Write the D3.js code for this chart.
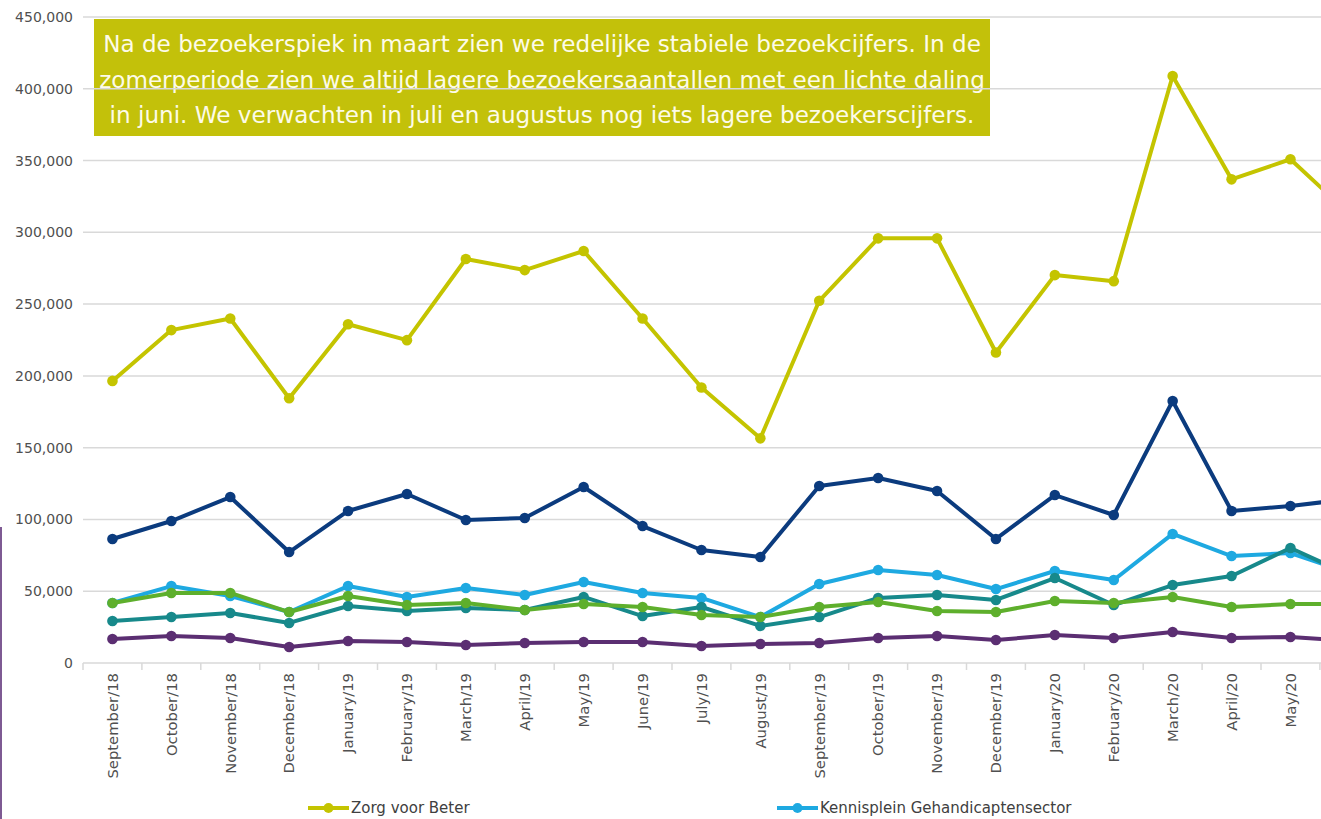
<!DOCTYPE html>
<html lang="nl">
<head>
<meta charset="UTF-8">
<title>Bezoekcijfers</title>
<script src="https://d3js.org/d3.v7.min.js"></script>
<style>
    body {
        margin: 0;
        background: #ffffff;
        overflow: hidden;
        font-family: 'DejaVu Sans', sans-serif;
    }
    .grid line { stroke: #d9d9d9; stroke-width: 1.5px; }
    .tick-label { fill: #505050; font-size: 14px; }
    .legend text { fill: #404040; font-size: 15px; }
</style>
</head>
<body>
<div id="chart"></div>
<script>
// months on the x axis (last one runs off the right edge)
const months = ["September/18", "October/18", "November/18", "December/18", "January/19", "February/19",
    "March/19", "April/19", "May/19", "June/19", "July/19", "August/19", "September/19", "October/19",
    "November/19", "December/19", "January/20", "February/20", "March/20", "April/20", "May/20", "June/20"];

const yTicks = [0, 50000, 100000, 150000, 200000, 250000, 300000, 350000, 400000, 450000];

// series values
const zorgVoorBeter = [196500, 231900, 240000, 184400, 236000, 224900, 281400, 273700, 287000, 240000, 191900,
    156500, 252300, 295800, 295800, 216300, 270200, 266000, 408900, 336900, 350900, 312800];
const navySeries = [86400, 98900, 115600, 77300, 105900, 117700, 99600, 101000, 122600, 95400, 78700,
    73800, 123300, 128900, 119800, 86400, 117000, 103100, 182500, 105900, 109400, 114200];
const kennisplein = [41800, 53600, 46700, 35500, 53600, 46000, 52200, 47400, 56400, 48800, 45300,
    32000, 55000, 64800, 61300, 51500, 64100, 57800, 89900, 74500, 76600, 62700];
const tealSeries = [29300, 32000, 34800, 27900, 39700, 36200, 38300, 36900, 46000, 32700, 39000,
    25800, 32000, 45300, 47400, 43900, 59200, 40400, 54300, 60600, 80100, 61300];
const greenSeries = [41800, 48800, 48800, 35500, 46700, 40400, 41800, 36900, 41100, 39000, 33400,
    32000, 39000, 42500, 36200, 35500, 43200, 41800, 46000, 39000, 41100, 41100];
const purpleSeries = [16700, 18800, 17400, 11100, 15300, 14600, 12500, 13900, 14600, 14600, 11800,
    13200, 13900, 17400, 18800, 16000, 19500, 17400, 21600, 17400, 18100, 15300];

const legendNames = ["Zorg voor Beter", "Kennisplein Gehandicaptensector"];

const noteLines = [
    "Na de bezoekerspiek in maart zien we redelijke stabiele bezoekcijfers. In de",
    "zomerperiode zien we altijd lagere bezoekersaantallen met een lichte daling",
    "in juni. We verwachten in juli en augustus nog iets lagere bezoekerscijfers."
];

const COLORS = {
    zorg: "#c4c400",
    navy: "#0b3b7e",
    lightBlue: "#1ea9e1",
    teal: "#17898b",
    green: "#5eaf2c",
    purple: "#5b2e72",
    box: "#c3c10a"
};

const W = 1321, H = 819;
const margin = { left: 83, top: 17, bottom: 156 };
const bandWidth = 58.9;

const svg = d3.select("#chart").append("svg")
    .attr("width", W)
    .attr("height", H);

const x = d3.scaleBand()
    .domain(months)
    .range([margin.left, margin.left + bandWidth * months.length])
    .padding(0);

const y = d3.scaleLinear()
    .domain([0, 450000])
    .range([H - margin.bottom, margin.top]);

// purple page edge on the left
svg.append("rect")
    .attr("x", 0).attr("y", 527)
    .attr("width", 2).attr("height", H - 527)
    .attr("fill", "#7e5a93");

// note box (sits under the grid lines)
const box = svg.append("g");
box.append("rect")
    .attr("x", 94).attr("y", 19)
    .attr("width", 896).attr("height", 117)
    .attr("fill", COLORS.box);
const noteText = box.selectAll("text")
    .data(noteLines)
    .enter().append("text")
    .attr("x", 542)
    .attr("y", (d, i) => 52 + i * 35.5)
    .attr("text-anchor", "middle")
    .attr("fill", "#fdfbe8")
    .style("font-size", "21px")
    .text(d => d);

// fit the first line to the width it has in the original
const firstWidth = noteText.node().getComputedTextLength();
noteText.style("font-size", (21 * 878 / firstWidth).toFixed(2) + "px");

// grid lines
svg.append("g")
    .attr("class", "grid")
    .selectAll("line")
    .data(yTicks.slice(1))
    .enter().append("line")
    .attr("x1", margin.left).attr("x2", W)
    .attr("y1", d => y(d)).attr("y2", d => y(d));

// y labels
svg.append("g")
    .selectAll("text")
    .data(yTicks)
    .enter().append("text")
    .attr("class", "tick-label")
    .attr("x", margin.left - 10)
    .attr("y", d => y(d))
    .attr("dy", "0.36em")
    .attr("text-anchor", "end")
    .text(d3.format(","));

// x axis line with ticks between the months
const xAxis = svg.append("g")
    .attr("transform", `translate(0,${y(0)})`)
    .call(d3.axisBottom(x).tickSize(0).tickFormat(""));
xAxis.select(".domain").attr("stroke", "#d9d9d9").attr("stroke-width", 1.5).attr("d", `M${margin.left},0H${W}`);
xAxis.selectAll(".sep")
    .data(months.filter(m => x(m) < W))
    .enter().append("line")
    .attr("x1", d => x(d)).attr("x2", d => x(d))
    .attr("y1", 0).attr("y2", 7)
    .attr("stroke", "#d9d9d9")
    .attr("stroke-width", 1.5);

// month labels; the one past the right edge is not shown
svg.append("g")
    .selectAll("text")
    .data(months.filter(m => x(m) + x.bandwidth() / 2 < W))
    .enter().append("text")
    .attr("class", "tick-label")
    .style("font-size", "14.8px")
    .attr("transform", d => `translate(${x(d) + x.bandwidth() / 2},${y(0) + 10}) rotate(-90)`)
    .attr("text-anchor", "end")
    .attr("dy", "0.36em")
    .text(d => d);

// lines
const line = d3.line()
    .x((d, i) => x(months[i]) + x.bandwidth() / 2)
    .y(d => y(d));

const series = [
    { values: zorgVoorBeter, color: COLORS.zorg },
    { values: navySeries, color: COLORS.navy },
    { values: kennisplein, color: COLORS.lightBlue },
    { values: tealSeries, color: COLORS.teal },
    { values: greenSeries, color: COLORS.green },
    { values: purpleSeries, color: COLORS.purple }
];

series.forEach(s => {
    const g = svg.append("g");
    g.append("path")
        .datum(s.values)
        .attr("fill", "none")
        .attr("stroke", s.color)
        .attr("stroke-width", 4)
        .attr("stroke-linejoin", "round")
        .attr("d", line);
    g.selectAll("circle")
        .data(s.values)
        .enter().append("circle")
        .attr("cx", (d, i) => x(months[i]) + x.bandwidth() / 2)
        .attr("cy", d => y(d))
        .attr("r", 5.3)
        .attr("fill", s.color);
});

// legend (first row only is visible)
const legend = svg.append("g")
    .attr("class", "legend")
    .selectAll("g")
    .data([
        { text: legendNames[0], color: COLORS.zorg, x: 308 },
        { text: legendNames[1], color: COLORS.lightBlue, x: 777 }
    ])
    .enter().append("g")
    .attr("transform", d => `translate(${d.x},808)`);

legend.append("line")
    .attr("x1", 0).attr("x2", 41)
    .attr("stroke", d => d.color)
    .attr("stroke-width", 4);
legend.append("circle")
    .attr("cx", 20.5)
    .attr("r", 5)
    .attr("fill", d => d.color);
legend.append("text")
    .attr("x", 43)
    .attr("dy", "0.36em")
    .text(d => d.text);
</script>
</body>
</html>
